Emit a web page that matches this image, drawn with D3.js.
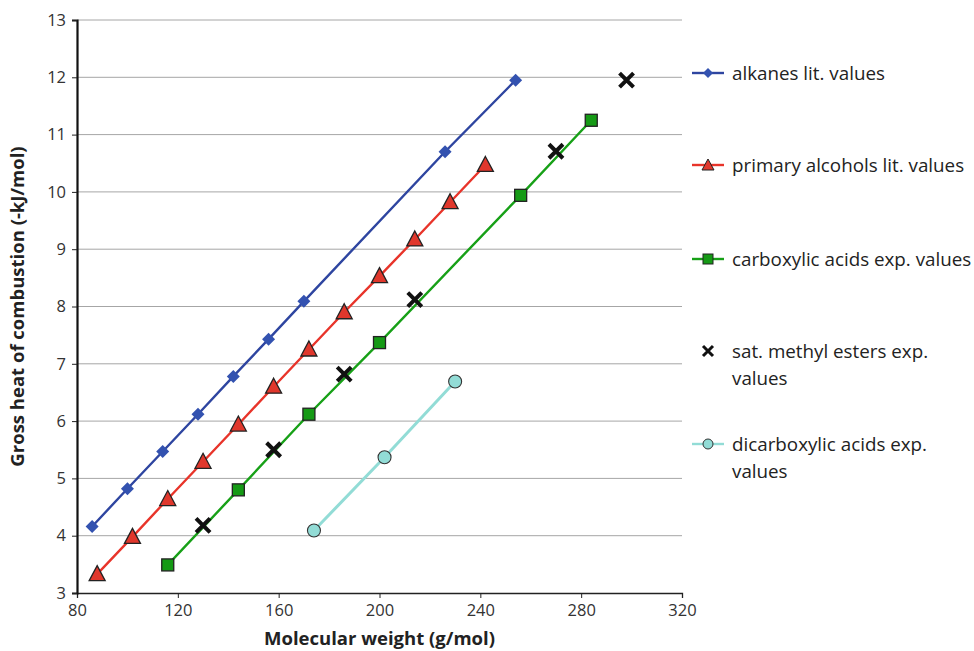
<!DOCTYPE html>
<html>
<head>
<meta charset="utf-8">
<script src="https://cdn.jsdelivr.net/npm/d3@7"></script>
<style>
  body { margin: 0; background: #fff; }
  text { font-family: "Open Sans", Lato, sans-serif; }
</style>
</head>
<body>
<div id="chart"></div>
<script>
// values (kJ/mol in thousands)
var alkanesMW  = [86, 100, 114, 128, 142, 156, 170, 226, 254];
var alkanesH   = [4.16, 4.82, 5.47, 6.12, 6.78, 7.43, 8.09, 10.70, 11.95];
var alcoholsMW = [88, 102, 116, 130, 144, 158, 172, 186, 200, 214, 228, 242];
var alcoholsH  = [3.33, 3.98, 4.64, 5.29, 5.94, 6.60, 7.25, 7.90, 8.53, 9.17, 9.82, 10.47];
var acidsMW    = [116, 144, 172, 200, 256, 284];
var acidsH     = [3.49, 4.80, 6.12, 7.37, 9.94, 11.25];
var estersMW   = [130, 158, 186, 214, 270, 298];
var estersH    = [4.18, 5.50, 6.82, 8.12, 10.71, 11.95];
var diacidsMW  = [174, 202, 230];
var diacidsH   = [4.09, 5.37, 6.69];

var xTicks = [80, 120, 160, 200, 240, 280, 320];
var yTicks = [3, 4, 5, 6, 7, 8, 9, 10, 11, 12, 13];

var series = [
  {name: ["alkanes lit. values"], mw: alkanesMW, h: alkanesH, line: "#2e45a0", fill: "#3352b0", marker: "diamond"},
  {name: ["primary alcohols lit. values"], mw: alcoholsMW, h: alcoholsH, line: "#e8342a", fill: "#e0372c", marker: "triangle"},
  {name: ["carboxylic acids exp. values"], mw: acidsMW, h: acidsH, line: "#17a017", fill: "#159a15", marker: "square"},
  {name: ["sat. methyl esters exp.", "values"], mw: estersMW, h: estersH, line: null, fill: "#111", marker: "cross"},
  {name: ["dicarboxylic acids exp.", "values"], mw: diacidsMW, h: diacidsH, line: "#92dcd6", fill: "#92dcd6", marker: "circle"}
];

var W = 974, H = 651;
var margin = {top: 20, right: 292, bottom: 58, left: 77},
    width = W - margin.left - margin.right,
    height = H - margin.top - margin.bottom;

var svg = d3.select("#chart").append("svg")
    .attr("width", W).attr("height", H)
  .append("g")
    .attr("transform", "translate(" + margin.left + "," + margin.top + ")");

var x = d3.scaleLinear().domain([80, 320]).range([0, width]);
var y = d3.scaleLinear().domain([3, 13]).range([height, 0]);

// gridlines
svg.append("g").selectAll("line")
  .data(yTicks.slice(1))
  .enter().append("line")
    .attr("x1", 0).attr("x2", width)
    .attr("y1", function(d) { return y(d); })
    .attr("y2", function(d) { return y(d); })
    .attr("stroke", "#a6a6a6").attr("stroke-width", 1);

// axes
var xAxis = svg.append("g")
    .attr("transform", "translate(0," + height + ")")
    .call(d3.axisBottom(x).tickValues(xTicks).tickSize(5).tickPadding(6));
var yAxis = svg.append("g")
    .call(d3.axisLeft(y).tickValues(yTicks).tickSize(5).tickPadding(6));
[xAxis, yAxis].forEach(function(a) {
  a.selectAll("text").attr("font-size", 16.5).attr("fill", "#333")
    .attr("font-family", "'Open Sans', Lato, sans-serif");
  a.selectAll("line").attr("stroke", "#222");
});
xAxis.select(".domain").attr("stroke", "#222").attr("stroke-width", 1.3);
yAxis.select(".domain").attr("stroke", "#111").attr("stroke-width", 2.2);

// axis titles
svg.append("text")
    .attr("x", width / 2).attr("y", height + 52)
    .attr("text-anchor", "middle")
    .attr("font-size", 18.5).attr("font-weight", "bold").attr("fill", "#222")
    .text("Molecular weight (g/mol)");
svg.append("text")
    .attr("transform", "rotate(-90)")
    .attr("x", -height / 2).attr("y", -53)
    .attr("text-anchor", "middle")
    .attr("font-size", 18.5).attr("font-weight", "bold").attr("fill", "#222")
    .text("Gross heat of combustion (-kJ/mol)");

function drawMarker(g, kind, s) {
  if (kind === "diamond") {
    g.append("path").attr("d", "M0,-6.5L6.5,0L0,6.5L-6.5,0Z")
      .attr("fill", s.fill);
  } else if (kind === "triangle") {
    g.append("path").attr("d", "M0,-8.5L8,6.5L-8,6.5Z")
      .attr("fill", s.fill).attr("stroke", "#222").attr("stroke-width", 1.3);
  } else if (kind === "square") {
    g.append("rect").attr("x", -6).attr("y", -6).attr("width", 12).attr("height", 12)
      .attr("fill", s.fill).attr("stroke", "#222").attr("stroke-width", 1.3);
  } else if (kind === "cross") {
    g.append("path").attr("d", "M-7,-7L7,7M7,-7L-7,7")
      .attr("stroke", s.fill).attr("stroke-width", 4);
  } else if (kind === "circle") {
    g.append("circle").attr("r", 6.5)
      .attr("fill", s.fill).attr("stroke", "#333").attr("stroke-width", 1.1);
  }
}

var line = d3.line()
    .x(function(d) { return x(d[0]); })
    .y(function(d) { return y(d[1]); });

series.forEach(function(s) {
  var pts = s.mw.map(function(m, i) { return [m, s.h[i]]; });
  if (s.line) {
    svg.append("path").datum(pts)
      .attr("d", line)
      .attr("fill", "none")
      .attr("stroke", s.line)
      .attr("stroke-width", s.marker === "circle" ? 3 : 2.4);
  }
  pts.forEach(function(p) {
    var g = svg.append("g")
      .attr("transform", "translate(" + x(p[0]) + "," + y(p[1]) + ")");
    drawMarker(g, s.marker, s);
  });
});

// legend
var legendY = [73, 165, 259, 351, 444];
var legend = svg.append("g")
    .attr("transform", "translate(" + (692 - margin.left) + "," + (-margin.top) + ")");
series.forEach(function(s, i) {
  var g = legend.append("g").attr("transform", "translate(0," + legendY[i] + ")");
  if (s.line) {
    g.append("line").attr("x1", 0).attr("x2", 32)
      .attr("stroke", s.line).attr("stroke-width", 2.4);
  }
  var m = g.append("g").attr("transform", "translate(16,0)");
  if (s.marker === "diamond") {
    m.append("path").attr("d", "M0,-5L5,0L0,5L-5,0Z").attr("fill", s.fill);
  } else if (s.marker === "triangle") {
    m.append("path").attr("d", "M0,-6L6,5L-6,5Z")
      .attr("fill", s.fill).attr("stroke", "#222").attr("stroke-width", 1);
  } else if (s.marker === "square") {
    m.append("rect").attr("x", -5).attr("y", -5).attr("width", 10).attr("height", 10)
      .attr("fill", s.fill).attr("stroke", "#222").attr("stroke-width", 1);
  } else if (s.marker === "cross") {
    m.append("path").attr("d", "M-5,-5L5,5M5,-5L-5,5")
      .attr("stroke", s.fill).attr("stroke-width", 3);
  } else {
    m.append("circle").attr("r", 5).attr("fill", s.fill)
      .attr("stroke", "#333").attr("stroke-width", 1);
  }
  s.name.forEach(function(t, j) {
    g.append("text")
      .attr("x", 40).attr("y", j * 27)
      .attr("dy", "0.35em")
      .attr("font-size", 18.8).attr("fill", "#222")
      .text(t);
  });
});
</script>
</body>
</html>
